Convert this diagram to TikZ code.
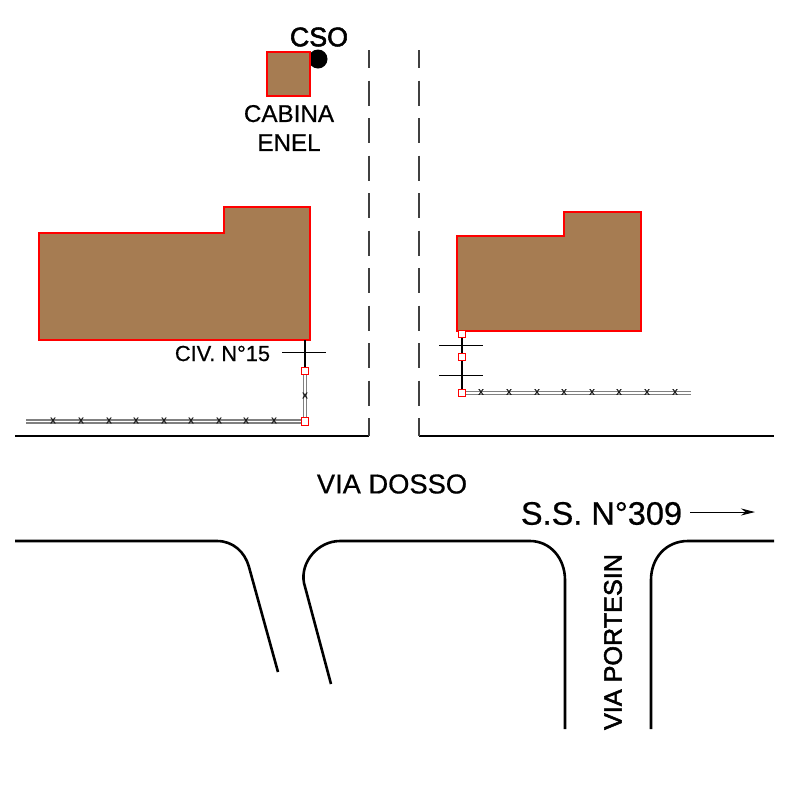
\documentclass[tikz,border=0pt]{standalone}
\usepackage{fontspec}
\setmainfont{Liberation Sans}
\newfontfamily\heavyfont[FakeBold=2]{Liberation Sans}
\newfontfamily\midfont[FakeBold=0.6]{Liberation Sans}
\usetikzlibrary{arrows.meta}
\definecolor{brownfill}{HTML}{A67C52}
\tikzset{
  building/.style={draw=red,line width=1.1pt,fill=brownfill},
  road/.style={draw=black,line width=2.6pt,line join=round},
  centre/.style={draw=black!75,line width=1.3pt,dash pattern=on 25pt off 12.5pt},
  fence/.style={draw=black!50,line width=1.5pt,double=white,double distance=1.3pt},
  wire/.style={draw=black,line width=2pt},
  tick/.style={draw=black,line width=1pt},
  joint/.style={draw=red,fill=white,line width=1.2pt,minimum size=7.5pt,inner sep=0pt,rectangle},
  xmark/.style={inner sep=0pt,font=\midfont\fontsize{11}{11}\selectfont,text=black!90},
  lbl/.style={inner sep=0pt,text=black,align=center},
}
\begin{document}
\begin{tikzpicture}[x=1pt,y=-1pt]
\useasboundingbox (0,0) rectangle (788,788);
\fill[white] (0,0) rectangle (788,788);

% roads
\draw[road] (15,436) -- (369,436);
\draw[road] (419,436) -- (774,436);
\draw[centre] (369,43) -- (369,436);
\draw[centre] (419,43) -- (419,436);
\fill[white] (360,35) rectangle (428,49.5);
\draw[road] (15,541) -- (217,541) .. controls (233,541) and (245,552) .. (249,567) -- (278,672);
\draw[road] (331,684) -- (304,583) .. controls (300,562) and (318,541) .. (340,541) -- (530,541) .. controls (550,541) and (565,558) .. (565,580) -- (565,729);
\draw[road] (651,729) -- (651,580) .. controls (651,558) and (666,541) .. (688,541) -- (774,541);

% buildings
\fill[black] (318,59) circle (9.5);
\draw[building] (267,52) rectangle (310,96);
\draw[building] (39,233) -- (224,233) -- (224,207) -- (310,207) -- (310,340) -- (39,340) -- cycle;
\draw[building] (457,236) -- (564,236) -- (564,212) -- (641,212) -- (641,331) -- (457,331) -- cycle;

% left service line
\coordinate (lb) at (305,340);
\coordinate (lcl) at (282,352.5);
\coordinate (lcr) at (326,352.5);
\coordinate (lf) at (26,421.5);
\node[joint] (l1) at (305,371) {};
\node[joint] (l2) at (305,421.5) {};
\draw[wire] (lb) -- (l1);
\draw[tick] (lcl) -- (lcr);
\draw[fence] (l1) -- (l2);
\draw[fence] (lf) -- (l2);
\foreach \x in {53,81,109,136,164,191,219,246,274}
  \node[xmark] (lx\x) at (\x,420.5) {x};
\node[xmark] (lxv) at (305,395.5) {x};

% right service line
\node[joint] (r1) at (462,334) {};
\node[joint] (r2) at (462,357) {};
\node[joint] (r3) at (462,393) {};
\coordinate (rf) at (691,393);
\coordinate (rc1l) at (439,345);
\coordinate (rc1r) at (483,345);
\coordinate (rc2l) at (439,375);
\coordinate (rc2r) at (483,375);
\draw[wire] (r1) -- (r2);
\draw[wire] (r2) -- (r3);
\draw[tick] (rc1l) -- (rc1r);
\draw[tick] (rc2l) -- (rc2r);
\draw[fence] (r3) -- (rf);
\foreach \x in {481,509,537,564,592,619,647,675}
  \node[xmark] (rx\x) at (\x,392) {x};

% labels
\node[lbl,font=\heavyfont\fontsize{26.8}{26.8}\selectfont] (cso) at (319,37) {CSO};
\node[lbl,font=\midfont\fontsize{24.2}{29}\selectfont] (cab) at (289,128) {CABINA\\ENEL};
\node[lbl,font=\midfont\fontsize{21.8}{22}\selectfont] (civ) at (222.5,353.5) {CIV. N°15};
\node[lbl,font=\midfont\fontsize{27.3}{28}\selectfont] (dosso) at (392,484) {VIA DOSSO};
\node[lbl,font=\midfont\fontsize{32.5}{33}\selectfont] (ss) at (601.5,513.5) {S.S. N°309};
\node[lbl,font=\heavyfont\fontsize{25.2}{26}\selectfont,rotate=90] (port) at (613,642) {VIA PORTESIN};
\coordinate (arrowend) at (755,512);
\coordinate (arrowstart) at (690,512);
\draw[-{Stealth[length=14pt,width=7pt]},line width=0.9pt] (arrowstart) -- (arrowend);
\end{tikzpicture}
\end{document}
